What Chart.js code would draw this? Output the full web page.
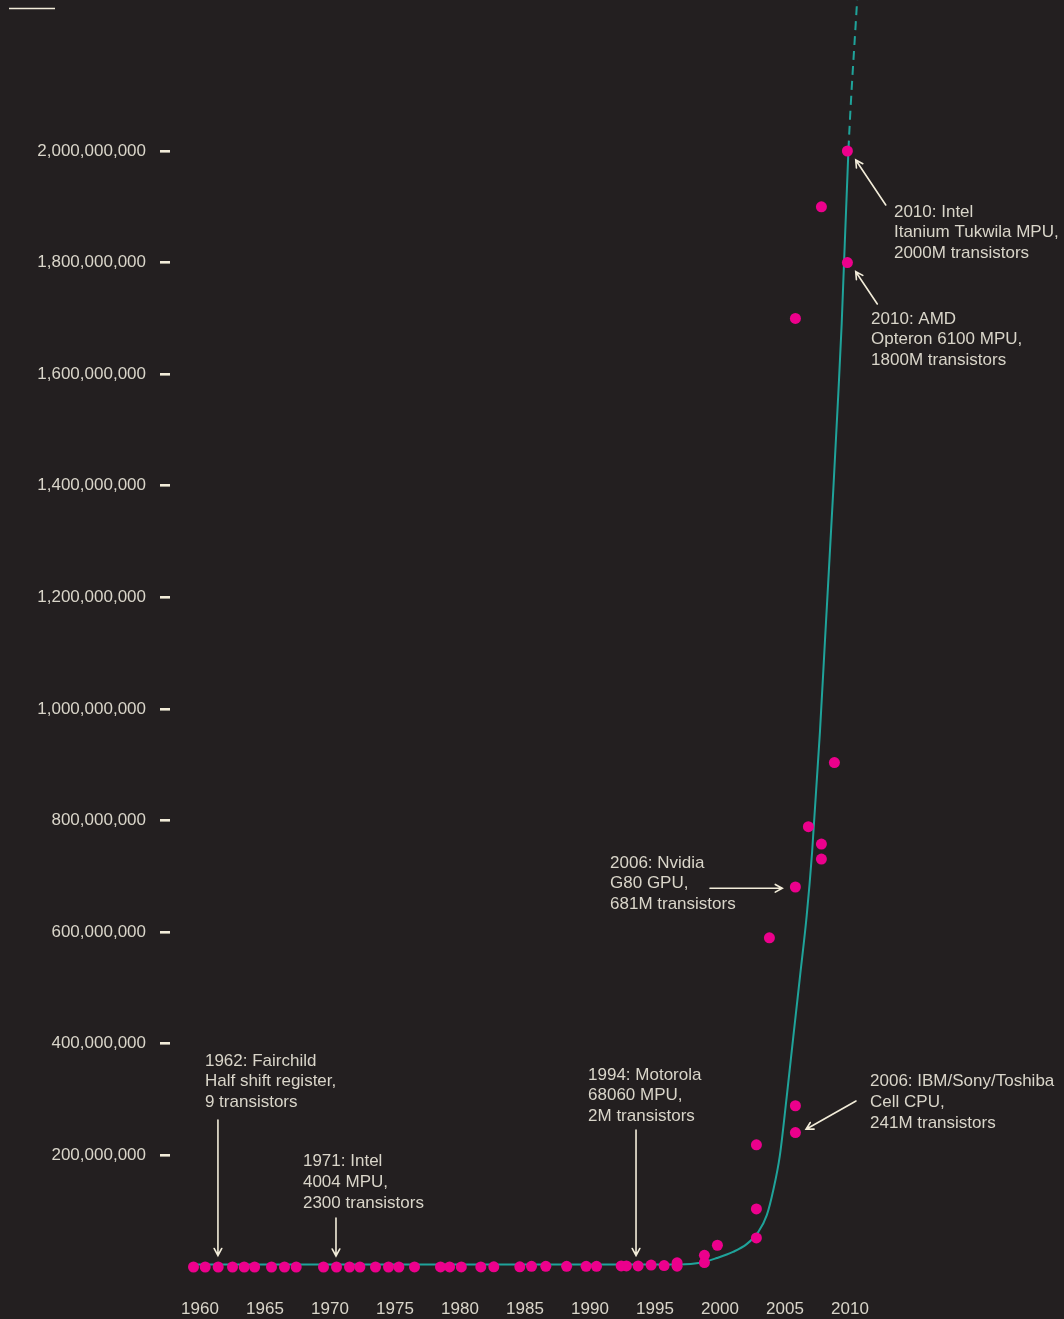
<!DOCTYPE html>
<html>
<head>
<meta charset="utf-8">
<script src="https://cdn.jsdelivr.net/npm/chart.js@4.4.1/dist/chart.umd.min.js"></script>
<style>
    html, body { margin: 0; padding: 0; background: #231f20; }
    canvas { display: block; background: #231f20; }
</style>
</head>
<body>
<canvas id="mooreChart" width="1064" height="1319"></canvas>
<script>
// --- Datos ---
const xTickYears = [1960, 1965, 1970, 1975, 1980, 1985, 1990, 1995, 2000, 2005, 2010];
const yTickValues = [200e6, 400e6, 600e6, 800e6, 1000e6, 1200e6, 1400e6, 1600e6, 1800e6, 2000e6];

// chips (año, transistores)
const chipYears = [
    1959.5, 1960.4, 1961.4, 1962.5, 1963.4, 1964.2, 1965.5, 1966.5, 1967.4,
    1969.5, 1970.5, 1971.5, 1972.3, 1973.5, 1974.5, 1975.3, 1976.5,
    1978.5, 1979.2, 1980.1, 1981.6, 1982.6, 1984.6, 1985.5, 1986.6,
    1988.2, 1989.7, 1990.5, 1992.4, 1992.8, 1993.7, 1994.7, 1995.7,
    1996.7, 1996.7, 1998.8, 1998.8, 1999.8,
    2002.8, 2002.8, 2002.8, 2003.8,
    2005.8, 2005.8, 2005.8, 2005.8, 2006.8,
    2007.8, 2007.8, 2007.8, 2008.8, 2009.8, 2009.8
];
const chipTransistors = [
    9, 20, 40, 60, 100, 200, 400, 600, 1000,
    2000, 2300, 3500, 4500, 6000, 8000, 9000, 29000,
    29000, 55000, 68000, 134000, 275000, 275000, 1.2e6, 1.2e6,
    1.2e6, 1.2e6, 1.2e6, 2e6, 2e6, 2e6, 3.5e6, 2.5e6,
    1.5e6, 7.5e6, 8e6, 21e6, 39e6,
    52e6, 104e6, 219e6, 590e6,
    241e6, 289e6, 681e6, 1700e6, 789e6,
    731e6, 758e6, 1900e6, 904e6, 1800e6, 2000e6
];

// curva de ajuste (continua hasta 2010, luego a trazos)
const fitYears = [
    1959.2, 1975, 1990, 1996.9, 1998.5, 1999.75, 2001.0, 2002.05, 2002.95,
    2003.6, 2004.1, 2004.6, 2005.13, 2005.64, 2006.15, 2006.67, 2007.08,
    2007.69, 2008.08, 2008.72, 2009.1, 2009.36, 2009.88, 2010.55
];
const fitTransistors = [
    4.5e6, 4.5e6, 4.5e6, 4.5e6, 7.5e6, 16e6, 27e6, 41e6, 63e6,
    93e6, 138e6, 199e6, 305e6, 413e6, 520e6, 630e6, 742e6,
    960e6, 1125e6, 1395e6, 1565e6, 1690e6, 2002e6, 2271e6
];
const fitDashFrom = 2009.85;

// textos de las notas
const noteTexts = [
    ['1962: Fairchild', 'Half shift register,', '9 transistors'],
    ['1971: Intel', '4004 MPU,', '2300 transistors'],
    ['1994: Motorola', '68060 MPU,', '2M transistors'],
    ['2006: IBM/Sony/Toshiba', 'Cell CPU,', '241M transistors'],
    ['2006: Nvidia', 'G80 GPU,', '681M transistors'],
    ['2010: AMD', 'Opteron 6100 MPU,', '1800M transistors'],
    ['2010: Intel', 'Itanium Tukwila MPU,', '2000M transistors']
];
// ubicación de cada nota en unidades del gráfico: [año, valor]
const noteLayout = [
    { text: [1960.38, 369.2e6], from: [1961.38, 263.4e6], to: [1961.38, 20.6e6] },
    { text: [1967.92, 188.7e6], from: [1970.46, 87.8e6], to: [1970.46, 19.7e6] },
    { text: [1989.85, 344.1e6], from: [1993.54, 245.5e6], to: [1993.54, 20.6e6] },
    { text: [2011.54, 332.1e6], from: [2010.46, 297.5e6], to: [2006.62, 246.8e6] },
    { text: [1991.54, 724.0e6], from: [1999.23, 678.7e6], to: [2004.79, 678.7e6] },
    { text: [2011.62, 1698.9e6], from: [2012.10, 1725.8e6], to: [2010.44, 1783.7e6] },
    { text: [2013.38, 1890.7e6], from: [2012.75, 1903.2e6], to: [2010.44, 1983.9e6] }
];

(function () {
    const TEXT = '#d9d5c9';
    const CREAM = '#f2ecd9';
    const TEAL = '#1fa39a';
    const MAGENTA = '#ec008c';
    const FONT = { family: '"Liberation Sans", Arial, sans-serif', size: 17 };
    const LINE_H = 20.7;

    function drawArrow(ctx, x1, y1, x2, y2) {
        const ang = Math.atan2(y2 - y1, x2 - x1);
        const head = 8;
        ctx.beginPath();
        ctx.moveTo(x1, y1);
        ctx.lineTo(x2, y2);
        ctx.moveTo(x2 - head * Math.cos(ang - 0.5), y2 - head * Math.sin(ang - 0.5));
        ctx.lineTo(x2, y2);
        ctx.lineTo(x2 - head * Math.cos(ang + 0.5), y2 - head * Math.sin(ang + 0.5));
        ctx.stroke();
    }

    // sin márgenes extra alrededor de los ejes
    function noPadding(s) {
        s.paddingTop = 0;
        s.paddingBottom = 0;
        s.paddingLeft = 0;
        s.paddingRight = 0;
    }

    // notas y flechas sobre los datos
    const notesPlugin = {
        id: 'notes',
        afterDatasetsDraw(chart) {
            const { ctx, scales } = chart;
            const px = p => [scales.x.getPixelForValue(p[0]), scales.y.getPixelForValue(p[1])];
            ctx.save();
            ctx.font = `${FONT.size}px ${FONT.family}`;
            ctx.textAlign = 'left';
            ctx.textBaseline = 'middle';
            ctx.strokeStyle = CREAM;
            ctx.lineWidth = 1.6;
            ctx.lineCap = 'round';
            noteLayout.forEach((n, i) => {
                const [tx, ty] = px(n.text);
                ctx.fillStyle = TEXT;
                noteTexts[i].forEach((line, j) => ctx.fillText(line, tx, ty + j * LINE_H));
                const [fx, fy] = px(n.from);
                const [ex, ey] = px(n.to);
                drawArrow(ctx, fx, fy, ex, ey);
            });
            ctx.restore();
        },
        afterDraw(chart) {
            // raya decorativa arriba a la izquierda
            const ctx = chart.ctx;
            ctx.save();
            ctx.strokeStyle = CREAM;
            ctx.lineWidth = 1.3;
            ctx.beginPath();
            ctx.moveTo(9, 8.5);
            ctx.lineTo(55, 8.5);
            ctx.stroke();
            ctx.restore();
        }
    };

    const el = document.getElementById('mooreChart');
    new Chart(el.getContext('2d'), {
        data: {
            datasets: [
                {
                    type: 'scatter',
                    data: chipYears.map((x, i) => ({ x, y: chipTransistors[i] })),
                    backgroundColor: MAGENTA,
                    borderWidth: 0,
                    pointRadius: 5.5
                },
                {
                    type: 'line',
                    data: fitYears.map((x, i) => ({ x, y: fitTransistors[i] })),
                    borderColor: TEAL,
                    borderWidth: 2,
                    pointRadius: 0,
                    fill: false,
                    clip: false,
                    cubicInterpolationMode: 'monotone',
                    segment: {
                        borderDash: c => c.p0.parsed.x >= fitDashFrom ? [9, 6] : undefined
                    }
                }
            ]
        },
        options: {
            responsive: false,
            animation: false,
            layout: { padding: 0, autoPadding: false },
            plugins: { legend: { display: false }, tooltip: { enabled: false } },
            scales: {
                x: {
                    type: 'linear',
                    min: 1957.692,
                    max: 2026.461,
                    grid: { display: false },
                    border: { display: false },
                    afterBuildTicks: s => { s.ticks = xTickYears.map(v => ({ value: v })); },
                    afterFit: s => { s.height = 34; noPadding(s); },
                    ticks: { color: TEXT, font: FONT, padding: 6, maxRotation: 0, callback: v => String(v) }
                },
                y: {
                    type: 'linear',
                    min: -32.26e6,
                    max: 2270.6e6,
                    grid: {
                        drawOnChartArea: false,
                        drawTicks: true,
                        tickLength: 10,
                        tickWidth: 2.6,
                        tickColor: CREAM,
                        color: CREAM,
                        lineWidth: 2.6
                    },
                    border: { display: false },
                    afterBuildTicks: s => { s.ticks = yTickValues.map(v => ({ value: v })); },
                    afterFit: s => { s.width = 170; noPadding(s); },
                    ticks: { color: TEXT, font: FONT, padding: 14, callback: v => v.toLocaleString('en-US') }
                }
            }
        },
        plugins: [notesPlugin]
    });
})();
</script>
</body>
</html>
